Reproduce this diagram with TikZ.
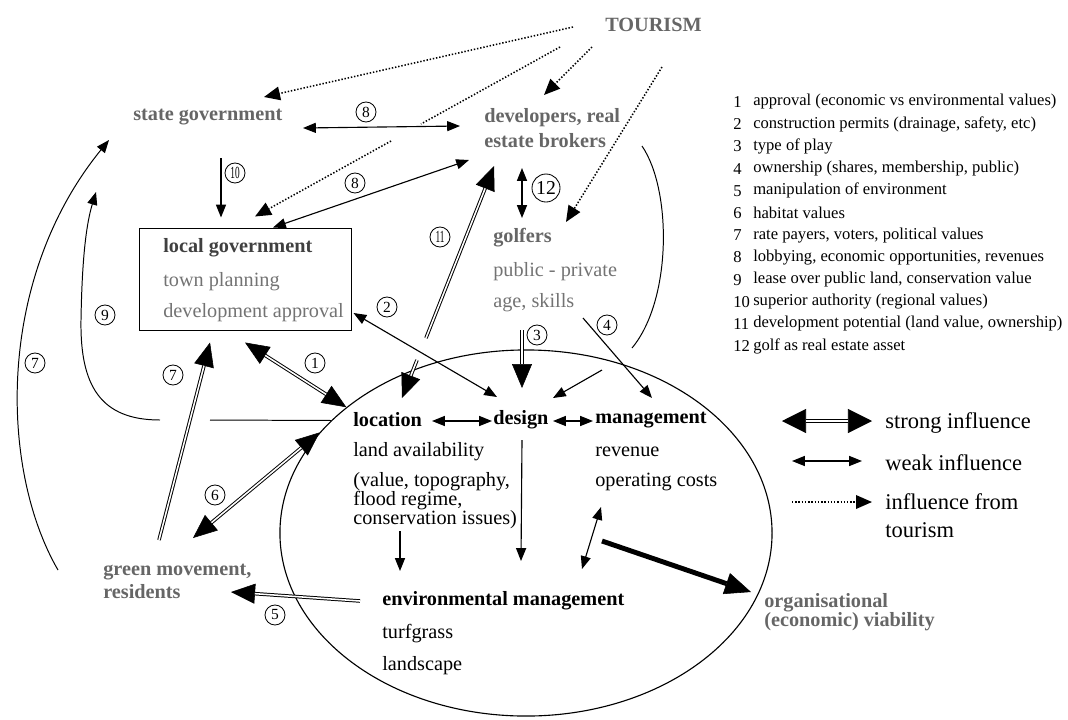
\documentclass[tikz,border=0pt]{standalone}
\usepackage{fontspec}
\setmainfont{Liberation Serif}
\usetikzlibrary{arrows.meta,shapes.geometric}

\definecolor{actorgray}{gray}{0.4}
\definecolor{subgray}{gray}{0.45}

\tikzset{
  smalltip/.tip={Triangle[length=0.32cm,width=0.25cm]},
  bigtip/.tip={Triangle[length=0.6cm,width=0.5cm,line width=0.4pt]},
  keytip/.tip={Triangle[length=0.6cm,width=0.6cm,line width=0.4pt]},
  tourtip/.tip={Triangle[length=0.4cm,width=0.34cm]},
  txt/.style={anchor=west, inner sep=0pt, align=left, font=\fontsize{14.4}{17}\selectfont},
  actor/.style={txt, text=actorgray, font=\fontsize{14.4}{17}\selectfont\bfseries},
  head/.style={txt, font=\fontsize{14.4}{17}\selectfont\bfseries},
  sub/.style={txt, text=subgray},
  item/.style={anchor=west, inner sep=0pt, font=\fontsize{11.8}{14}\selectfont},
  key/.style={anchor=west, inner sep=0pt, align=left, font=\fontsize{16}{20}\selectfont},
  num/.style={circle, draw, line width=0.6pt, inner sep=0pt, minimum size=0.5cm, font=\fontsize{11}{11}\selectfont},
  weak/.style={line width=0.8pt, -smalltip},
  strongline/.style={line width=2.5pt},
  inner/.style={draw=white, line width=1.1pt, -},
  strong/.style={strongline, -bigtip, postaction={inner, shorten >=0.6cm}},
  strongback/.style={strongline, bigtip-, postaction={inner, shorten <=0.6cm}},
  strongboth/.style={strongline, bigtip-bigtip, postaction={inner, shorten <=0.6cm, shorten >=0.6cm}},
  tour/.style={line width=1.1pt, dash pattern=on 1pt off 1.3pt},
  curve/.style={line width=0.7pt},
  heavy/.style={line width=3.5pt, -{Triangle[length=0.65cm,width=0.55cm,line width=0.4pt]}}
}

\begin{document}
\begin{tikzpicture}[x=0.025cm, y=-0.025cm]
  \useasboundingbox (0,0) rectangle (1068,719);

  % golf course
  \node[draw, ellipse, line width=0.8pt, inner sep=0pt, minimum width=12.3cm, minimum height=9.15cm] (course) at (526,533) {};

  % actors
  \node[actor] (tourism) at (605,25) {TOURISM};
  \node[actor] (stategov) at (133,117) {state government};
  \node[actor, font=\fontsize{14.4}{17.8}\selectfont\bfseries] (devel) at (484,128) {developers, real\\estate brokers};
  \node[draw, line width=0.7pt, inner sep=0pt, minimum width=5.275cm, minimum height=2.55cm] (localgov) at (245.5,279) {};
  \node[head, text=black!75] (lgtitle) at (163,248) {local government};
  \node[sub] (planning) at (163,282) {town planning};
  \node[sub] (approval) at (163,313) {development approval};
  \node[actor] (golfers) at (493,238) {golfers};
  \node[sub] (pubpriv) at (493,272) {public - private};
  \node[sub] (ageskills) at (493,303) {age, skills};
  \node[actor, font=\fontsize{14.4}{16.4}\selectfont\bfseries] (green) at (103,581) {green movement,\\residents};
  \node[actor, font=\fontsize{14.4}{13.8}\selectfont\bfseries] (org) at (764,612) {organisational\\(economic) viability};

  % inside the course
  \node[head] (location) at (353,420) {location};
  \node[head] (design) at (493,420) {design};
  \node[head] (management) at (595,420) {management};
  \node[txt] (landavail) at (353,452) {land availability};
  \node[txt, font=\fontsize{14.4}{13.5}\selectfont] (values) at (353,501) {(value, topography,\\flood regime,\\conservation issues)};
  \node[txt] (revenue) at (595,452) {revenue};
  \node[txt] (opcosts) at (595,482) {operating costs};
  \node[head] (envmgmt) at (382,601) {environmental management};
  \node[txt] (turfgrass) at (382,634) {turfgrass};
  \node[txt] (landscape) at (382,666) {landscape};

  % numbered list
  \foreach \n/\txt in {1/approval (economic vs environmental values),
      2/{construction permits (drainage, safety, etc)}, 3/type of play,
      4/{ownership (shares, membership, public)}, 5/manipulation of environment,
      6/habitat values, 7/{rate payers, voters, political values},
      8/{lobbying, economic opportunities, revenues},
      9/{lease over public land, conservation value},
      10/superior authority (regional values),
      11/{development potential (land value, ownership)},
      12/golf as real estate asset}{
    \node[item] (no\n) at (733,79.8+22.2*\n) {\n};
    \node[item] (item\n) at (753,79.8+22.2*\n) {\txt};
  }

  % legend
  \node[key] (lgstrong) at (885,423) {strong influence};
  \node[key] (lgweak) at (885,463) {weak influence};
  \node[key] (lgtour) at (885,516) {influence from\\tourism};
  \draw[strongline, keytip-keytip, postaction={inner, shorten <=0.6cm, shorten >=0.6cm}] ([shift={(-103,-2)}]lgstrong.west) -- ([shift={(-13,-2)}]lgstrong.west);
  \draw[weak, smalltip-smalltip] ([shift={(-93,-2)}]lgweak.west) -- ([shift={(-23,-2)}]lgweak.west);
  \draw[tour, -tourtip] ([shift={(-93,-14)}]lgtour.west) -- ([shift={(-13,-14)}]lgtour.west);

  % influence from tourism
  \coordinate (gapa) at (421,124);
  \coordinate (gapb) at (391,141);
  \draw[tour, -tourtip] ([shift={(-32,2)}]tourism.west) -- ([shift={(131,-20)}]stategov.west);
  \draw[tour, -tourtip] ([shift={(-13,22)}]tourism.west) -- ([shift={(60,-33)}]devel.west);
  \draw[tour] ([shift={(-45,22)}]tourism.west) -- (gapa);
  \draw[tour, -tourtip] (gapb) -- ([shift={(9.5,-11)}]localgov.north);
  \draw[tour, -tourtip] ([shift={(57,42)}]tourism.west) -- ([shift={(73,-16)}]golfers.west);

  % weak influences
  \draw[weak, smalltip-smalltip] ([shift={(170,11)}]stategov.west) -- ([shift={(-24,-2)}]devel.west);
  \draw[weak] ([shift={(88,41)}]stategov.west) -- ([shift={(-24.5,-10)}]localgov.north);
  \draw[weak, smalltip-smalltip] ([shift={(-15,32)}]devel.west) -- ([shift={(27.5,0)}]localgov.north);
  \draw[weak, smalltip-smalltip] ([shift={(38,40)}]devel.west) -- ([shift={(29,-20)}]golfers.west);
  \draw[weak, smalltip-smalltip] ([shift={(2,34)}]localgov.east) -- ([shift={(4,-23)}]design.west);
  \draw[weak] ([shift={(90,15)}]ageskills.west) -- ([shift={(57,-22)}]management.west);
  \draw[weak, smalltip-smalltip] ([shift={(79,1)}]location.west) -- ([shift={(-1,1)}]design.west);
  \draw[weak, smalltip-smalltip] ([shift={(60,1)}]design.west) -- ([shift={(-2,1)}]management.west);
  \draw[weak] ([shift={(47,30)}]values.west) -- ([shift={(18,-30)}]envmgmt.west);
  \draw[weak] ([shift={(29,20)}]design.west) -- ([shift={(139,-40)}]envmgmt.west);
  \draw[weak, smalltip-smalltip] ([shift={(6,25)}]opcosts.west) -- ([shift={(200,-32)}]envmgmt.west);

  % developers curve into design
  \coordinate (gapra) at (632,348);
  \coordinate (gaprb) at (602,370);
  \draw[curve] ([shift={(158,18)}]devel.west) .. controls (672,190) and (672,300) .. (gapra);
  \draw[weak] (gaprb) -- ([shift={(60,-22)}]design.west);

  % lease line (9)
  \coordinate (gap9a) at (210,420);
  \coordinate (gap9b) at (160,420);
  \draw[curve] (course.150) -- (gap9a);
  \draw[curve, -smalltip] (gap9b) .. controls (100,420) and (80,385) .. (81,320)
    .. controls (82,260) and (86,225) .. ([shift={(-37,75)}]stategov.west);

  % voters (7), outer
  \draw[curve, -smalltip] ([shift={(-45,-11)}]green.west) .. controls (0,470) and (-5,280) .. ([shift={(-24,23)}]stategov.west);

  % strong influences
  \coordinate (gap11a) at (426,338);
  \coordinate (gap11b) at (417,360);
  \draw[strongback] ([shift={(10,38)}]devel.west) -- (gap11a);
  \draw[strong] (gap11b) -- ([shift={(49,-22)}]location.west);
  \draw[strongboth] ([shift={(-0.5,12)}]localgov.south) -- (course.145);
  \draw[strongboth] ([shift={(90,-43)}]green.west) -- (course.154);
  \draw[strong] ([shift={(56,-41)}]green.west) -- ([shift={(-35.5,12)}]localgov.south);
  \draw[strong] ([shift={(29,27)}]ageskills.west) -- ([shift={(29,-32)}]design.west);
  \draw[strong] ([shift={(-22,0)}]envmgmt.west) -- ([shift={(128,11)}]green.west);
  \draw[heavy] ([shift={(7,59)}]opcosts.west) -- ([shift={(-13,-20)}]org.west);

  % circled numbers
  \node[num] (num1) at (315,363) {1};
  \node[num] (num2) at (387,307) {2};
  \node[num] (num3) at (537,335) {3};
  \node[num] (num4) at (607,325) {4};
  \node[num] (num5) at (275,615) {5};
  \node[num] (num6) at (215,495) {6};
  \node[num] (num7a) at (173,375) {7};
  \node[num] (num7b) at (35,363) {7};
  \node[num] (num8a) at (366,112) {8};
  \node[num] (num8b) at (355,183) {8};
  \node[num] (num9) at (105,315) {9};
  \node[num] (num10) at (235,173) {\scalebox{0.6}[1.1]{10}};
  \node[num] (num11) at (440,237) {\scalebox{0.6}[1.1]{11}};
  \node[num, minimum size=0.7cm, font=\fontsize{14}{14}\selectfont] (num12) at (546,188) {12};
\end{tikzpicture}
\end{document}
